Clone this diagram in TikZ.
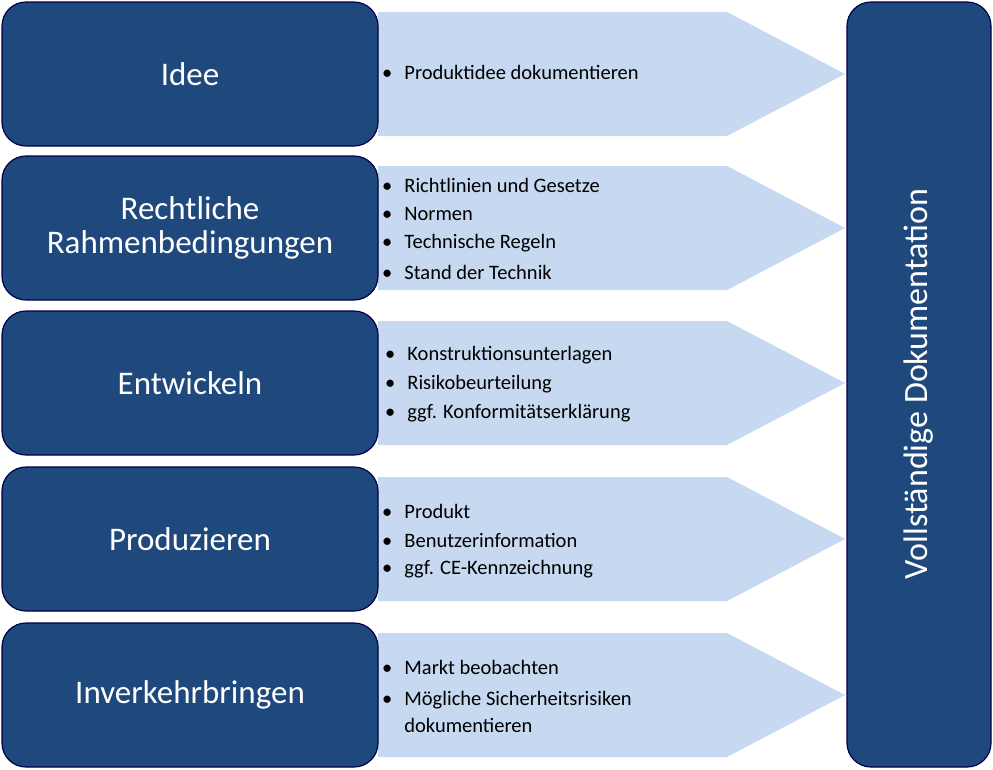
\documentclass[tikz,border=0pt]{standalone}
\usepackage{fontspec}
\setmainfont{Carlito}
\begin{document}
\begin{tikzpicture}[x=1pt,y=-1pt,
  stage/.style={draw=black!70!blue, line width=1.2pt, fill=darkblue, rounded corners=24pt},
  arrowbg/.style={fill=lightblue, draw=none},
  stagetext/.style={text=white, font=\fontsize{33}{38}\selectfont, align=center},
  bul/.style={anchor=west, font=\fontsize{20.5}{29}\selectfont, align=left, inner sep=0pt}]
\definecolor{darkblue}{HTML}{1F497D}
\definecolor{lightblue}{HTML}{C6D9F1}
\useasboundingbox (0,0) rectangle (993,769);
\foreach \t/\b [count=\i] in {2/146,156/300,311/455,467/611,623/767}{
  \pgfmathsetmacro{\m}{(\t+\b)/2}
  \fill[lightblue] (378,\t+10) -- (727,\t+10) -- (845,\m) -- (727,\b-10) -- (378,\b-10) -- cycle;
  \draw[stage] (2,\t) rectangle (378,\b);
  \coordinate (c\i) at (190,\m);
}
\node[stagetext] (s1) at (c1) {Idee};
\node[stagetext] (s2) at (c2) {Rechtliche\\[-4pt]Rahmenbedingungen};
\node[stagetext] (s3) at (c3) {Entwickeln};
\node[stagetext] (s4) at (c4) {Produzieren};
\node[stagetext] (s5) at (c5) {Inverkehrbringen};
\draw[stage] (847,2) rectangle (991,767);
\node[text=white, font=\fontsize{34}{38}\selectfont, rotate=90] (vd) at (919,384) {Vollständige Dokumentation};
\newcommand{\bl}[3]{\node[bul] at (382,#1) {\textbullet\hspace{12pt}#2};}
\bl{72}{Produktidee dokumentieren}{}
\bl{185}{Richtlinien und Gesetze}{}
\bl{214}{Normen}{}
\bl{243}{Technische Regeln}{}
\bl{272}{Stand der Technik}{}
\node[bul] at (385,355) {\textbullet\hspace{12pt}Konstruktionsunterlagen};
\node[bul] at (385,384) {\textbullet\hspace{12pt}Risikobeurteilung};
\node[bul] at (385,413) {\textbullet\hspace{12pt}ggf. Konformitätserklärung};
\bl{511}{Produkt}{}
\bl{540}{Benutzerinformation}{}
\bl{569}{ggf. CE-Kennzeichnung}{}
\bl{667}{Markt beobachten}{}
\node[bul, anchor=north west] at (382,685) {\textbullet\hspace{12pt}\begin{tabular}[t]{@{}l@{}}Mögliche Sicherheitsrisiken\\[-2pt]dokumentieren\end{tabular}};
\end{tikzpicture}
\end{document}
